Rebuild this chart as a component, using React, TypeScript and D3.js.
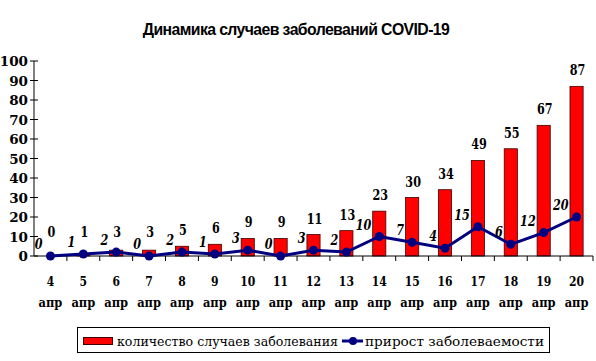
import React from "react";
import * as d3 from "d3";

const WIDTH = 596;
const HEIGHT = 361;

const days = ["4", "5", "6", "7", "8", "9", "10", "11", "12", "13", "14", "15", "16", "17", "18", "19", "20"];
const cases = [0, 1, 3, 3, 5, 6, 9, 9, 11, 13, 23, 30, 34, 49, 55, 67, 87];
const growth = [0, 1, 2, 0, 2, 1, 3, 0, 3, 2, 10, 7, 4, 15, 6, 12, 20];
const yTicks = [0, 10, 20, 30, 40, 50, 60, 70, 80, 90, 100];

const SERIF = "'DejaVu Serif', serif";
const SANS = "'Liberation Sans', Arial, sans-serif";

// serif text squeezed horizontally to look closer to Times
const Narrow = ({ x, y, size, anchor = "middle", italic = false, bold = true, sx = 0.8, children }: any) => (
  <text
    transform={`translate(${x},${y}) scale(${sx},1)`}
    textAnchor={anchor}
    fontFamily={SERIF}
    fontWeight={bold ? "bold" : "normal"}
    fontStyle={italic ? "italic" : "normal"}
    fontSize={size}
  >
    {children}
  </text>
);

export default function App() {
  const x = d3.scaleBand<string>().domain(days).range([34, 593]).padding(0);
  const y = d3.scaleLinear().domain([0, 100]).range([256, 61]);
  const barW = x.bandwidth() * 0.4;
  const cx = (d: string) => (x(d) ?? 0) + x.bandwidth() / 2;

  const line = d3
    .line<number>()
    .x((_, i) => cx(days[i]))
    .y((v) => y(v));

  return (
    <div style={{ position: "absolute", left: 0, top: 0 }}>
      <svg width={WIDTH} height={HEIGHT} style={{ display: "block", background: "#fff" }}>
        <text x={296} y={35} textAnchor="middle" fontFamily={SANS} fontWeight="bold" fontSize={15.8} letterSpacing={-0.6}>
          Динамика случаев заболеваний COVID-19
        </text>

        {/* bars */}
        {cases.map((v, i) => (
          <rect
            key={"b" + i}
            x={cx(days[i]) - barW / 2}
            y={y(v)}
            width={barW}
            height={y(0) - y(v)}
            fill="#ff0000"
            stroke="#400000"
            strokeWidth={0.8}
          />
        ))}

        {/* y axis */}
        <line x1={34} x2={34} y1={y(0)} y2={y(100)} stroke="#000" />
        {yTicks.map((t) => (
          <g key={"y" + t}>
            <line x1={30} x2={38} y1={y(t)} y2={y(t)} stroke="#000" />
            <text x={28} y={y(t) + 5} textAnchor="end" fontFamily={SERIF} fontWeight="bold" fontSize={13.5}>
              {t}
            </text>
          </g>
        ))}

        {/* x axis */}
        <line x1={34} x2={593} y1={y(0)} y2={y(0)} stroke="#000" />
        {days.map((d) => (
          <line key={"t" + d} x1={(x(d) ?? 0) + x.bandwidth()} x2={(x(d) ?? 0) + x.bandwidth()} y1={y(0)} y2={y(0) + 5} stroke="#000" />
        ))}
        {days.map((d) => (
          <g key={"l" + d}>
            <Narrow x={cx(d)} y={286} size={13.5}>{d}</Narrow>
            <Narrow x={cx(d)} y={307} size={13.5} sx={0.85}>апр</Narrow>
          </g>
        ))}

        {/* growth line */}
        <path d={line(growth) || ""} fill="none" stroke="#000080" strokeWidth={3} />
        {growth.map((v, i) => (
          <circle key={"c" + i} cx={cx(days[i])} cy={y(v)} r={4.5} fill="#000080" />
        ))}

        {/* labels */}
        {cases.map((v, i) => (
          <Narrow key={"vl" + i} x={cx(days[i]) + 1} y={Math.min(y(v) - 11, y(0) - 19)} size={14}>
            {v}
          </Narrow>
        ))}
        {growth.map((v, i) => (
          <Narrow key={"gl" + i} x={cx(days[i]) - 8} y={y(v) - 7} size={14} anchor="end" italic>
            {v}
          </Narrow>
        ))}

        {/* legend */}
        <rect x={77.5} y={327.5} width={472} height={25} fill="#fff" stroke="#000" />
        <rect x={83.5} y={337.5} width={29} height={7} fill="#ff0000" stroke="#400000" />
        <text x={117} y={346} fontFamily={SERIF} fontSize={13.5} textLength={221} lengthAdjust="spacingAndGlyphs">
          количество случаев заболевания
        </text>
        <line x1={342} x2={363} y1={341} y2={341} stroke="#000080" strokeWidth={3} />
        <circle cx={353} cy={341} r={4} fill="#000080" />
        <text x={365} y={346} fontFamily={SERIF} fontSize={13.5} textLength={179} lengthAdjust="spacingAndGlyphs">
          прирост заболеваемости
        </text>
      </svg>
    </div>
  );
}
